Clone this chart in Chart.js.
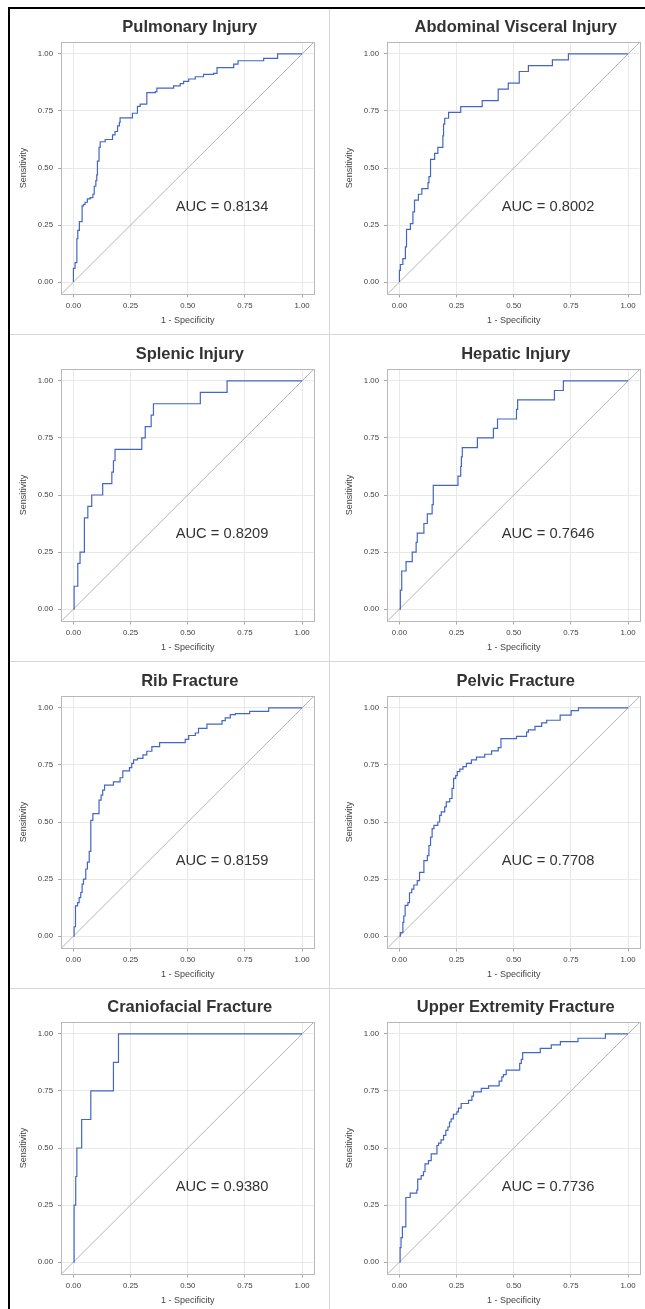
<!DOCTYPE html>
<html>
<head>
<meta charset="utf-8">
<script src="https://cdn.jsdelivr.net/npm/chart.js@4.4.1/dist/chart.umd.min.js"></script>
<style>
html,body{margin:0;padding:0;background:#fff;}
body{width:645px;height:1309px;position:relative;overflow:hidden;}
.ln{position:absolute;}
canvas{position:absolute;}
</style>
</head>
<body>
<div class="ln" style="left:7.5px;top:7px;width:2px;height:1302px;background:#000;"></div>
<div class="ln" style="left:7.5px;top:7px;width:638px;height:2px;background:#000;"></div>
<div class="ln" style="left:329px;top:9px;width:1px;height:1300px;background:#d6d6d6;"></div>
<div class="ln" style="left:9.5px;top:333.5px;width:636px;height:1px;background:#d6d6d6;"></div>
<div class="ln" style="left:9.5px;top:660.5px;width:636px;height:1px;background:#d6d6d6;"></div>
<div class="ln" style="left:9.5px;top:988px;width:636px;height:1px;background:#d6d6d6;"></div>

<script>
// ---------- data ----------
const panelTitles = ["Pulmonary Injury", "Abdominal Visceral Injury", "Splenic Injury", "Hepatic Injury",
  "Rib Fracture", "Pelvic Fracture", "Craniofacial Fracture", "Upper Extremity Fracture"];
const aucLabels = ["AUC = 0.8134", "AUC = 0.8002", "AUC = 0.8209", "AUC = 0.7646",
  "AUC = 0.8159", "AUC = 0.7708", "AUC = 0.9380", "AUC = 0.7736"];
const tickValues = [0, 0.25, 0.5, 0.75, 1];
const tickLabels = ["0.00", "0.25", "0.50", "0.75", "1.00"];
const xAxisTitle = "1 - Specificity";
const yAxisTitle = "Sensitivity";
const diagonalX = [-0.05, 1.05];
const diagonalY = [-0.05, 1.05];

const pulmonaryFpr = [0, 0, 0.007, 0.015, 0.019, 0.026, 0.038, 0.044, 0.051, 0.061, 0.073, 0.085, 0.091, 0.098, 0.102, 0.105, 0.112, 0.117, 0.139, 0.171, 0.182, 0.193, 0.201, 0.204, 0.258, 0.28, 0.292, 0.321, 0.358, 0.365, 0.438, 0.467, 0.482, 0.504, 0.533, 0.569, 0.613, 0.628, 0.701, 0.72, 0.832, 0.893, 1];
const pulmonaryTpr = [0, 0.06, 0.085, 0.19, 0.227, 0.265, 0.334, 0.34, 0.35, 0.365, 0.37, 0.385, 0.42, 0.445, 0.47, 0.53, 0.59, 0.615, 0.625, 0.645, 0.66, 0.685, 0.70, 0.72, 0.74, 0.77, 0.78, 0.83, 0.835, 0.85, 0.86, 0.87, 0.88, 0.89, 0.90, 0.91, 0.915, 0.94, 0.955, 0.97, 0.98, 1.0, 1.0];

const abdominalFpr = [0, 0, 0.004, 0.015, 0.026, 0.031, 0.048, 0.059, 0.066, 0.083, 0.098, 0.125, 0.129, 0.136, 0.154, 0.168, 0.19, 0.193, 0.198, 0.215, 0.268, 0.362, 0.432, 0.476, 0.524, 0.564, 0.669, 0.739, 1];
const abdominalTpr = [0, 0.051, 0.077, 0.103, 0.154, 0.231, 0.256, 0.308, 0.359, 0.385, 0.41, 0.436, 0.462, 0.538, 0.564, 0.59, 0.641, 0.692, 0.718, 0.744, 0.769, 0.795, 0.846, 0.872, 0.923, 0.949, 0.974, 1.0, 1.0];

const splenicFpr = [0, 0.003, 0.019, 0.029, 0.048, 0.063, 0.080, 0.128, 0.168, 0.175, 0.182, 0.299, 0.314, 0.34, 0.35, 0.555, 0.672, 1];
const splenicTpr = [0, 0.10, 0.20, 0.25, 0.40, 0.45, 0.50, 0.55, 0.60, 0.65, 0.70, 0.75, 0.80, 0.85, 0.90, 0.95, 1.0, 1.0];

const hepaticFpr = [0, 0.004, 0.010, 0.029, 0.056, 0.073, 0.078, 0.107, 0.122, 0.143, 0.148, 0.256, 0.268, 0.271, 0.275, 0.341, 0.411, 0.429, 0.512, 0.517, 0.678, 0.717, 1];
const hepaticTpr = [0, 0.083, 0.167, 0.208, 0.25, 0.292, 0.333, 0.375, 0.417, 0.458, 0.542, 0.583, 0.625, 0.667, 0.708, 0.75, 0.792, 0.833, 0.875, 0.917, 0.958, 1.0, 1.0];

const ribFpr = [0, 0.003, 0.009, 0.018, 0.025, 0.032, 0.038, 0.044, 0.054, 0.061, 0.069, 0.076, 0.085, 0.112, 0.121, 0.128, 0.136, 0.175, 0.204, 0.216, 0.245, 0.255, 0.263, 0.28, 0.304, 0.321, 0.343, 0.377, 0.489, 0.504, 0.533, 0.547, 0.584, 0.65, 0.664, 0.686, 0.708, 0.771, 0.854, 1];
const ribTpr = [0, 0.041, 0.132, 0.147, 0.169, 0.191, 0.228, 0.25, 0.294, 0.324, 0.371, 0.507, 0.537, 0.596, 0.618, 0.64, 0.662, 0.676, 0.694, 0.724, 0.738, 0.757, 0.772, 0.779, 0.794, 0.81, 0.83, 0.848, 0.862, 0.879, 0.89, 0.91, 0.929, 0.944, 0.956, 0.971, 0.975, 0.985, 1.0, 1.0];

const pelvicFpr = [0, 0.004, 0.015, 0.019, 0.025, 0.037, 0.044, 0.054, 0.063, 0.078, 0.088, 0.107, 0.122, 0.129, 0.136, 0.143, 0.151, 0.168, 0.176, 0.183, 0.198, 0.205, 0.22, 0.23, 0.237, 0.246, 0.253, 0.264, 0.278, 0.293, 0.315, 0.337, 0.373, 0.403, 0.432, 0.444, 0.512, 0.556, 0.564, 0.593, 0.622, 0.644, 0.703, 0.751, 0.783, 1];
const pelvicTpr = [0, 0.015, 0.06, 0.088, 0.135, 0.147, 0.19, 0.206, 0.224, 0.243, 0.279, 0.331, 0.353, 0.397, 0.434, 0.471, 0.485, 0.50, 0.529, 0.544, 0.566, 0.588, 0.603, 0.647, 0.691, 0.703, 0.721, 0.732, 0.743, 0.757, 0.772, 0.784, 0.797, 0.812, 0.826, 0.865, 0.875, 0.894, 0.904, 0.919, 0.934, 0.946, 0.968, 0.988, 1.0, 1.0];

const cranioFpr = [0, 0.003, 0.010, 0.015, 0.036, 0.076, 0.175, 0.197, 1];
const cranioTpr = [0, 0.25, 0.375, 0.5, 0.625, 0.75, 0.875, 1.0, 1.0];

const upperFpr = [0, 0.003, 0.007, 0.013, 0.028, 0.047, 0.076, 0.080, 0.095, 0.105, 0.112, 0.127, 0.139, 0.164, 0.171, 0.182, 0.193, 0.203, 0.212, 0.219, 0.226, 0.236, 0.251, 0.258, 0.27, 0.302, 0.317, 0.324, 0.358, 0.39, 0.436, 0.448, 0.455, 0.467, 0.526, 0.533, 0.539, 0.616, 0.664, 0.704, 0.781, 0.901, 1];
const upperTpr = [0, 0.063, 0.107, 0.154, 0.283, 0.302, 0.316, 0.364, 0.379, 0.396, 0.43, 0.445, 0.474, 0.511, 0.521, 0.536, 0.555, 0.577, 0.592, 0.614, 0.628, 0.648, 0.658, 0.675, 0.695, 0.709, 0.727, 0.746, 0.761, 0.772, 0.793, 0.812, 0.822, 0.841, 0.871, 0.888, 0.918, 0.937, 0.952, 0.966, 0.981, 1.0, 1.0];

const curveFpr = [pulmonaryFpr, abdominalFpr, splenicFpr, hepaticFpr, ribFpr, pelvicFpr, cranioFpr, upperFpr];
const curveTpr = [pulmonaryTpr, abdominalTpr, splenicTpr, hepaticTpr, ribTpr, pelvicTpr, cranioTpr, upperTpr];

// ---------- layout / style ----------
const FONT = '"Liberation Sans", Arial, sans-serif';
const colLeft = [10, 336];
const colWidth = [318, 309];
const colPadRight = [14.5, 5.5];
const rowTop = [0, 327, 654, 980];
const CANVAS_H = 329;
const PAD_TOP = 42.5;
const Y_AXIS_W = 52;
const X_AXIS_H = 35.5;

const panelDecor = {
  id: 'panelDecor',
  beforeDatasetsDraw(chart) {
    const {ctx, chartArea: a} = chart;
    ctx.save();
    ctx.strokeStyle = '#b8b8b8';
    ctx.lineWidth = 1;
    const l = Math.round(a.left) - 0.5, t = Math.round(a.top) - 0.5;
    const r = Math.round(a.right) + 0.5, b = Math.round(a.bottom) + 0.5;
    ctx.strokeRect(l, t, r - l, b - t);
    ctx.restore();
  },
  afterDraw(chart, args, opts) {
    const {ctx, chartArea: a, scales} = chart;
    ctx.save();
    ctx.fillStyle = '#333333';
    ctx.textAlign = 'center';
    ctx.textBaseline = 'alphabetic';
    ctx.font = 'bold 16.5px ' + FONT;
    ctx.fillText(opts.title, (a.left + a.right) / 2 + 2, a.top - 11);
    ctx.font = '14.7px ' + FONT;
    ctx.fillText(opts.auc, scales.x.getPixelForValue(0.65), scales.y.getPixelForValue(0.31));
    ctx.restore();
  }
};

function axis(isX) {
  return {
    type: 'linear',
    position: isX ? 'bottom' : 'left',
    min: -0.05,
    max: 1.05,
    afterBuildTicks: s => { s.ticks = tickValues.map(v => ({value: v})); },
    afterFit: s => { if (isX) s.height = X_AXIS_H; else s.width = Y_AXIS_W; },
    ticks: {
      callback: v => { const i = tickValues.indexOf(v); return i >= 0 ? tickLabels[i] : ''; },
      font: {family: FONT, size: 7.8},
      color: '#404040',
      padding: isX ? 4 : 5,
      autoSkip: false,
      maxRotation: 0
    },
    grid: {color: '#e8e8e8', lineWidth: 1, tickLength: 4, tickColor: '#a8a8a8', drawTicks: true},
    border: {display: false},
    title: {
      display: true,
      text: isX ? xAxisTitle : yAxisTitle,
      font: {family: FONT, size: 9},
      color: '#444444',
      padding: isX ? {top: 0, bottom: 3} : {top: 8, bottom: 0}
    }
  };
}

for (let p = 0; p < 8; p++) {
  const c = p % 2, r = Math.floor(p / 2);
  const cv = document.createElement('canvas');
  cv.width = colWidth[c];
  cv.height = CANVAS_H;
  cv.style.left = colLeft[c] + 'px';
  cv.style.top = rowTop[r] + 'px';
  cv.style.width = colWidth[c] + 'px';
  cv.style.height = CANVAS_H + 'px';
  document.body.appendChild(cv);

  new Chart(cv, {
    type: 'line',
    data: {
      datasets: [
        {
          data: curveFpr[p].map((x, i) => ({x: x, y: curveTpr[p][i]})),
          stepped: true,
          borderColor: '#4266c6',
          borderWidth: 1.2,
          pointRadius: 0,
          fill: false
        },
        {
          data: diagonalX.map((x, i) => ({x: x, y: diagonalY[i]})),
          borderColor: '#b4b4b4',
          borderWidth: 1,
          pointRadius: 0,
          fill: false
        }
      ]
    },
    options: {
      responsive: false,
      animation: false,
      devicePixelRatio: 1,
      layout: {padding: {top: PAD_TOP, right: colPadRight[c], bottom: 0, left: 0}},
      scales: {x: axis(true), y: axis(false)},
      plugins: {
        legend: {display: false},
        tooltip: {enabled: false},
        panelDecor: {title: panelTitles[p], auc: aucLabels[p]}
      }
    },
    plugins: [panelDecor]
  });
}
</script>
</body>
</html>
